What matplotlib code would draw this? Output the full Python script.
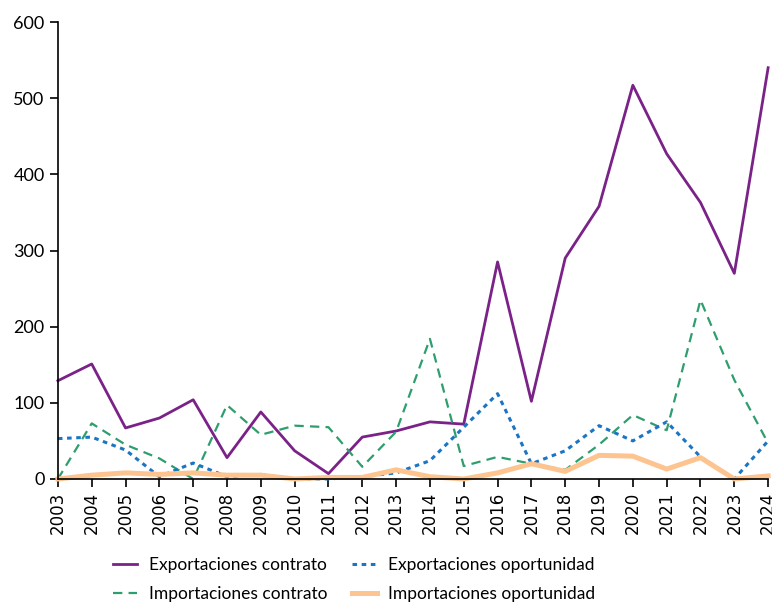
import matplotlib
matplotlib.use("Agg")
import matplotlib.pyplot as plt

years = list(range(2003, 2025))

exp_contrato = [129, 151, 67, 80, 104, 28, 88, 37, 7, 55, 63, 75, 72, 285,
                102, 290, 358, 517, 427, 363, 270, 540]
imp_contrato = [0, 73, 45, 27, 0, 97, 58, 70, 68, 16, 62, 184, 17, 29,
                20, 12, 45, 84, 64, 235, 130, 47]
exp_oportunidad = [53, 55, 38, 3, 21, 3, 6, 0, 0, 3, 8, 24, 68, 112,
                   20, 37, 70, 50, 75, 29, 0, 50]
imp_oportunidad = [0, 5, 8, 6, 8, 5, 5, 0, 2, 2, 12, 3, 0, 8,
                   20, 10, 31, 30, 13, 28, 0, 4]

labels = ["Exportaciones contrato", "Importaciones contrato",
          "Exportaciones oportunidad", "Importaciones oportunidad"]

plt.rcParams['font.family'] = ['Lato', 'DejaVu Sans']

fig = plt.figure(figsize=(7.72, 6.05), dpi=100)
ax = fig.add_axes([0.075, 0.2083, 0.92, 0.7553])

ax.plot(years, exp_contrato, color='#7b2288', lw=2.0, label=labels[0], clip_on=False)
ax.plot(years, imp_contrato, color='#2e9e6e', lw=1.6, dashes=(4.2, 2.8), label=labels[1], clip_on=False)
ax.plot(years, exp_oportunidad, color='#1b75c2', lw=2.2, dashes=(1.5, 1.5), label=labels[2], clip_on=False)
ax.plot(years, imp_oportunidad, color='#fdc490', lw=3.6, label=labels[3], clip_on=False)

ax.set_xlim(2003, 2024)
ax.set_ylim(0, 600)
ax.set_xticks(years)
ax.set_xticklabels([str(y) for y in years], rotation=90, family='DejaVu Sans', fontsize=12)
ax.set_yticks(range(0, 601, 100))
ax.tick_params(axis='y', labelsize=13, length=6, width=1.2)
ax.tick_params(axis='x', length=6, width=1.2, pad=3)
for s in ['top', 'right']:
    ax.spines[s].set_visible(False)
for s in ['left', 'bottom']:
    ax.spines[s].set_linewidth(1.2)

handles, labs = ax.get_legend_handles_labels()
fig.legend(handles, labs, loc='upper left', bbox_to_anchor=(113 / 772, 1 - 557 / 605),
           ncol=2, frameon=False, borderpad=0, borderaxespad=0, fontsize=12.5,
           handlelength=1.4, columnspacing=1.45, handletextpad=0.65, labelspacing=0.75)

fig.savefig("out.png", dpi=100)
